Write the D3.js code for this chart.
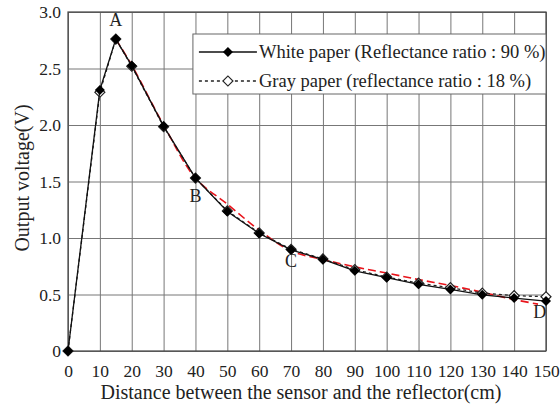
<!DOCTYPE html>
<html>
<head>
<meta charset="utf-8">
<script src="https://cdn.jsdelivr.net/npm/d3@7"></script>
<style>
  body { margin: 0; background: #fff; }
</style>
</head>
<body>
<div id="chart"></div>
<script>
// data
var distance = [0, 10, 15, 20, 30, 40, 50, 60, 70, 80, 90, 100, 110, 120, 130, 140, 150];
var whitePaper = [0, 2.31, 2.76, 2.525, 1.99, 1.53, 1.235, 1.04, 0.895, 0.81, 0.71, 0.65, 0.59, 0.545, 0.497, 0.468, 0.442];
var grayPaper = [0, 2.29, 2.76, 2.52, 1.985, 1.53, 1.24, 1.045, 0.90, 0.815, 0.72, 0.655, 0.6, 0.56, 0.512, 0.49, 0.48];

var fitX = [15, 20, 30, 40, 50, 60, 70, 80, 90, 100, 110, 120, 130, 140, 147.5];
var fitY = [2.76, 2.53, 2.0, 1.53, 1.30, 1.07, 0.885, 0.81, 0.745, 0.69, 0.632, 0.58, 0.52, 0.455, 0.415];

var xTicks = [0, 10, 20, 30, 40, 50, 60, 70, 80, 90, 100, 110, 120, 130, 140, 150];
var yTicks = [0, 0.5, 1.0, 1.5, 2.0, 2.5, 3.0];
var yTickLabels = ['0', '0.5', '1.0', '1.5', '2.0', '2.5', '3.0'];

var pointLabels = ['A', 'B', 'C', 'D'];
var pointLabelX = [15, 40, 70, 148];
var pointLabelY = [2.88, 1.32, 0.74, 0.29];

var legendNames = ['White paper (Reflectance ratio : 90 %)', 'Gray paper (reflectance ratio : 18 %)'];

var fontFamily = "'Liberation Serif', 'DejaVu Serif', serif";

// chart size
var width = 560, height = 405;
var margin = { top: 12, right: 14, bottom: 54, left: 68 };
var plotW = width - margin.left - margin.right;
var plotH = height - margin.top - margin.bottom;

var svg = d3.select('#chart')
    .append('svg')
    .attr('width', width)
    .attr('height', height)
    .attr('font-family', fontFamily)
    .style('font-family', fontFamily);

var g = svg.append('g')
    .attr('transform', 'translate(' + margin.left + ',' + margin.top + ')');

var x = d3.scaleLinear().domain([0, 150]).range([0, plotW]);
var y = d3.scaleLinear().domain([0, 3]).range([plotH, 0]);

// grid lines
g.append('g')
    .attr('class', 'x-grid')
    .attr('transform', 'translate(0,' + plotH + ')')
    .call(d3.axisBottom(x).tickValues(xTicks).tickSize(-plotH).tickFormat(''))
    .call(function(s){ s.select('.domain').remove(); })
    .selectAll('line').attr('stroke', '#777').attr('stroke-width', 1);

g.append('g')
    .attr('class', 'y-grid')
    .call(d3.axisLeft(y).tickValues(yTicks).tickSize(-plotW).tickFormat(''))
    .call(function(s){ s.select('.domain').remove(); })
    .selectAll('line').attr('stroke', '#777').attr('stroke-width', 1);

// frame
g.append('rect')
    .attr('width', plotW)
    .attr('height', plotH)
    .attr('fill', 'none')
    .attr('stroke', '#444')
    .attr('stroke-width', 1.2);

// axes tick labels
var xAxis = g.append('g')
    .attr('class', 'x-axis')
    .attr('transform', 'translate(0,' + plotH + ')')
    .call(d3.axisBottom(x).tickValues(xTicks).tickSize(0).tickPadding(14));
xAxis.attr('font-family', fontFamily);
xAxis.select('.domain').remove();
xAxis.selectAll('text').attr('font-size', 17.5).attr('fill', '#222');

var yAxis = g.append('g')
    .attr('class', 'y-axis')
    .call(d3.axisLeft(y).tickValues(yTicks).tickSize(0).tickPadding(7)
        .tickFormat(function(d, i){ return yTickLabels[i]; }));
yAxis.attr('font-family', fontFamily);
yAxis.select('.domain').remove();
yAxis.selectAll('text').attr('font-size', 17.5).attr('fill', '#222');

// fitted red dashed curve
var fitData = fitX.map(function(d, i){ return [d, fitY[i]]; });
g.append('path')
    .datum(fitData)
    .attr('fill', 'none')
    .attr('stroke', '#e8141b')
    .attr('stroke-width', 1.6)
    .attr('stroke-dasharray', '8,4')
    .attr('d', d3.line()
        .x(function(d){ return x(d[0]); })
        .y(function(d){ return y(d[1]); })
        .curve(d3.curveCatmullRom));

var line = d3.line()
    .x(function(d){ return x(d[0]); })
    .y(function(d){ return y(d[1]); });

var grayData = distance.map(function(d, i){ return [d, grayPaper[i]]; });
var whiteData = distance.map(function(d, i){ return [d, whitePaper[i]]; });

var diamond = d3.symbol().type(d3.symbolSquare).size(50);

// gray paper series
g.append('path')
    .datum(grayData)
    .attr('fill', 'none')
    .attr('stroke', '#222')
    .attr('stroke-width', 1.3)
    .attr('stroke-dasharray', '3,3')
    .attr('d', line);

g.selectAll('.gray-pt')
    .data(grayData)
    .enter()
    .append('path')
    .attr('class', 'gray-pt')
    .attr('d', diamond)
    .attr('transform', function(d){ return 'translate(' + x(d[0]) + ',' + y(d[1]) + ') rotate(45)'; })
    .attr('fill', '#fff')
    .attr('stroke', '#222')
    .attr('stroke-width', 1.2);

// white paper series
g.append('path')
    .datum(whiteData)
    .attr('fill', 'none')
    .attr('stroke', '#111')
    .attr('stroke-width', 1.3)
    .attr('d', line);

g.selectAll('.white-pt')
    .data(whiteData)
    .enter()
    .append('path')
    .attr('class', 'white-pt')
    .attr('d', diamond)
    .attr('transform', function(d){ return 'translate(' + x(d[0]) + ',' + y(d[1]) + ') rotate(45)'; })
    .attr('fill', '#000');

// point labels A-D
g.selectAll('.pt-label')
    .data(pointLabels)
    .enter()
    .append('text')
    .attr('class', 'pt-label')
    .attr('x', function(d, i){ return x(pointLabelX[i]); })
    .attr('y', function(d, i){ return y(pointLabelY[i]); })
    .attr('text-anchor', 'middle')
    .attr('font-size', 18)
    .attr('fill', '#222')
    .text(function(d){ return d; });

// legend
var legend = g.append('g')
    .attr('transform', 'translate(' + (x(39.2)) + ',' + 22 + ')');

legend.append('rect')
    .attr('width', plotW - x(39.2))
    .attr('height', 60)
    .attr('fill', '#fff')
    .attr('stroke', '#666')
    .attr('stroke-width', 1);

legend.append('line')
    .attr('x1', 6).attr('x2', 64).attr('y1', 18).attr('y2', 18)
    .attr('stroke', '#111').attr('stroke-width', 1.3);
legend.append('path')
    .attr('d', diamond)
    .attr('transform', 'translate(35,18) rotate(45)')
    .attr('fill', '#000');

legend.append('line')
    .attr('x1', 6).attr('x2', 64).attr('y1', 47).attr('y2', 47)
    .attr('stroke', '#222').attr('stroke-width', 1.3)
    .attr('stroke-dasharray', '3,3');
legend.append('path')
    .attr('d', diamond)
    .attr('transform', 'translate(35,47) rotate(45)')
    .attr('fill', '#fff')
    .attr('stroke', '#222')
    .attr('stroke-width', 1.2);

legend.selectAll('.leg-text')
    .data(legendNames)
    .enter()
    .append('text')
    .attr('class', 'leg-text')
    .attr('x', 66)
    .attr('y', function(d, i){ return 24 + i * 29; })
    .attr('font-size', 18.5)
    .attr('fill', '#222')
    .text(function(d){ return d; });

// axis titles
svg.append('text')
    .attr('x', 301)
    .attr('y', 399)
    .attr('text-anchor', 'middle')
    .attr('font-size', 20)
    .attr('fill', '#222')
    .text('Distance between the sensor and the reflector(cm)');

svg.append('text')
    .attr('transform', 'rotate(-90)')
    .attr('x', -178)
    .attr('y', 29)
    .attr('text-anchor', 'middle')
    .attr('font-size', 20)
    .attr('fill', '#222')
    .text('Output voltage(V)');
</script>
</body>
</html>
